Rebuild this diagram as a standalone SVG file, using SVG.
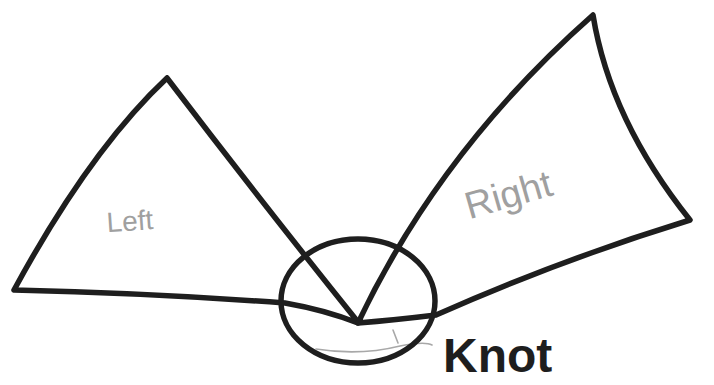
<svg xmlns="http://www.w3.org/2000/svg" width="714" height="385" viewBox="0 0 714 385">
<style>
.ink{fill:none;stroke:#1e1e1e;stroke-width:5.5;stroke-linecap:round;stroke-linejoin:round}
.pencil{fill:none;stroke:#a8a8a8;stroke-width:1.6;stroke-linecap:round}
.lbl{font-family:"Liberation Sans",Arial,sans-serif;fill:#a0a0a0}
</style>
<rect width="714" height="385" fill="#fff"/>
<g id="connectors">
<path class="pencil" d="M316,349 Q360,356 400,346 Q425,341 432,345"/>
<path class="pencil" d="M393,330 L398,343"/>
</g>
<g id="left">
<path class="ink" d="M167,78 Q90,150 14,290 Q150,293 285,303 Q325,310 358,323 M167,78 Q260,200 358,322"/>
<text class="lbl" x="106" y="230" font-size="28" transform="rotate(-4 140 215)">Left</text>
</g>
<g id="right">
<path class="ink" d="M358,323 Q440,150 593,15 Q610,120 690,220 Q560,260 436,315 Q395,320 358,323"/>
<text class="lbl" x="460" y="207" font-size="38" transform="rotate(-16 508 180)">Right</text>
</g>
<g id="knot">
<ellipse class="ink" cx="358" cy="301" rx="77" ry="62"/>
<text x="443" y="372" font-family="Liberation Sans,Arial,sans-serif" font-weight="bold" font-size="48" fill="#1e1e1e">Knot</text>
</g>
</svg>
